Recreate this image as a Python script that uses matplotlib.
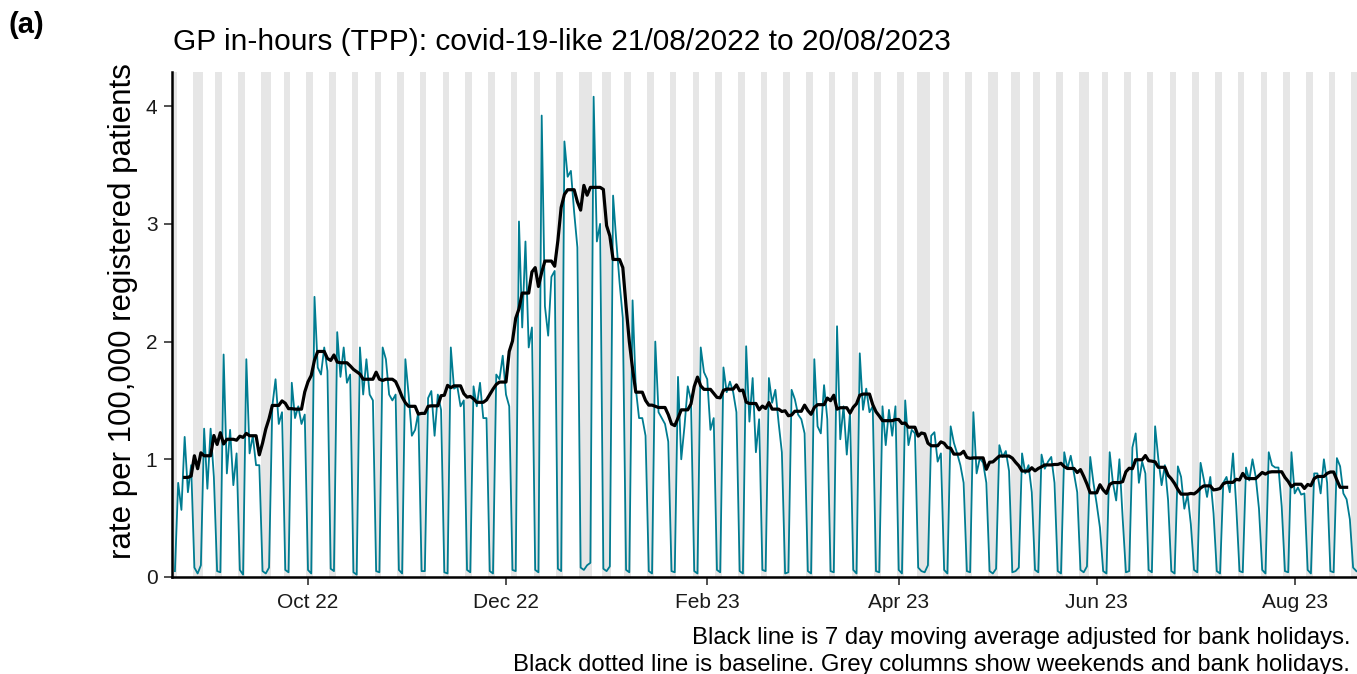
import matplotlib
matplotlib.use("Agg")
import matplotlib.pyplot as plt
import matplotlib.dates as mdates
import numpy as np
import pandas as pd

plt.rcParams["font.family"] = ["Liberation Sans", "DejaVu Sans"]

START = "2022-08-21"
END = "2023-08-20"

# daily rate per 100,000, one row per week (Sun..Sat)
rate = [
    0.05, 0.80, 0.57, 1.19, 0.72, 0.95, 0.08,
    0.03, 0.10, 1.26, 0.75, 1.26, 0.85, 0.05,
    0.04, 1.89, 0.88, 1.25, 0.78, 1.05, 0.06,
    0.02, 1.85, 1.05, 1.20, 0.95, 0.95, 0.05,
    0.03, 0.08, 1.45, 1.68, 1.30, 1.40, 0.06,
    0.04, 1.65, 1.35, 1.45, 1.30, 1.38, 0.06,
    0.03, 2.38, 1.78, 1.72, 1.95, 1.75, 0.07,
    0.05, 2.08, 1.70, 1.95, 1.65, 1.72, 0.04,
    0.02, 1.95, 1.55, 1.85, 1.55, 1.50, 0.05,
    0.04, 1.95, 1.85, 1.55, 1.50, 1.55, 0.06,
    0.03, 1.85, 1.55, 1.20, 1.25, 1.40, 0.05,
    0.05, 1.52, 1.58, 1.20, 1.55, 1.42, 0.04,
    0.03, 1.95, 1.60, 1.62, 1.45, 1.50, 0.06,
    0.04, 1.62, 1.45, 1.65, 1.35, 1.35, 0.05,
    0.03, 1.72, 1.68, 1.88, 1.55, 1.45, 0.06,
    0.05, 3.02, 2.12, 2.85, 1.95, 2.12, 0.06,
    0.04, 3.92, 2.30, 2.05, 2.55, 2.60, 0.07,
    0.05, 3.70, 3.40, 3.45, 3.10, 2.80, 0.08,
    0.06, 0.10, 0.12, 4.08, 2.85, 3.00, 0.07,
    0.05, 0.09, 3.24, 2.85, 2.50, 2.20, 0.06,
    0.04, 2.35, 1.60, 1.35, 1.35, 1.20, 0.05,
    0.03, 2.00, 1.40, 1.35, 1.30, 1.15, 0.05,
    0.04, 1.70, 1.00, 1.28, 1.62, 1.50, 0.05,
    0.03, 1.95, 1.74, 1.68, 1.25, 1.35, 0.06,
    0.04, 1.78, 1.57, 1.66, 1.57, 1.40, 0.05,
    0.03, 1.96, 1.32, 1.69, 1.06, 1.34, 0.06,
    0.05, 1.69, 1.48, 1.59, 1.31, 1.06, 0.03,
    0.04, 1.59, 1.51, 1.38, 1.34, 1.22, 0.05,
    0.03, 1.85, 1.28, 1.22, 1.63, 1.34, 0.05,
    0.04, 2.13, 1.17, 1.45, 1.04, 1.40, 0.06,
    0.03, 1.90, 1.42, 1.60, 1.40, 1.45, 0.05,
    0.04, 1.45, 1.12, 1.42, 1.20, 1.45, 0.06,
    0.03, 1.50, 1.12, 1.25, 1.22, 0.08, 0.05,
    0.04, 0.10, 1.20, 1.23, 0.98, 1.05, 0.06,
    0.03, 1.28, 1.14, 1.05, 0.95, 0.80, 0.05,
    0.04, 1.40, 0.88, 1.01, 0.97, 0.80, 0.05,
    0.03, 0.07, 1.12, 1.02, 1.07, 0.90, 0.04,
    0.05, 0.08, 1.05, 0.88, 0.95, 0.72, 0.06,
    0.04, 1.04, 0.92, 0.98, 1.02, 0.80, 0.05,
    0.03, 1.06, 0.92, 1.03, 0.88, 0.72, 0.06,
    0.04, 0.09, 1.02, 0.80, 0.62, 0.42, 0.05,
    0.03, 1.06, 0.80, 0.65, 1.00, 0.50, 0.04,
    0.05, 1.10, 1.22, 0.80, 0.98, 0.88, 0.06,
    0.04, 1.28, 1.00, 0.78, 0.95, 0.65, 0.05,
    0.03, 0.94, 0.85, 0.58, 0.70, 0.45, 0.06,
    0.04, 0.97, 0.83, 0.68, 0.85, 0.54, 0.05,
    0.03, 0.80, 0.85, 0.72, 1.05, 0.60, 0.05,
    0.04, 0.93, 0.82, 1.00, 0.85, 0.58, 0.06,
    0.03, 1.06, 0.95, 0.93, 0.93, 0.60, 0.05,
    0.04, 1.06, 0.71, 0.76, 0.70, 0.71, 0.06,
    0.03, 0.88, 0.88, 0.71, 1.00, 0.80, 0.05,
    0.04, 1.01, 0.94, 0.71, 0.66, 0.49, 0.08,
    0.05,
]

bank_holidays = [
    "2022-08-29", "2022-09-19", "2022-12-26", "2022-12-27", "2023-01-02",
    "2023-04-07", "2023-04-10", "2023-05-01", "2023-05-08", "2023-05-29",
]

TEAL = "#007C91"

dates = pd.date_range(START, END, freq="D")
df = pd.DataFrame({"date": dates, "rate": rate})
hols = pd.to_datetime(bank_holidays)
df["off"] = (df["date"].dt.dayofweek >= 5) | df["date"].isin(hols)

# 7 day moving average over working days only
work = df["rate"].where(~df["off"])
ma = work.rolling(7, center=True, min_periods=1).mean()
ma.iloc[:3] = np.nan
ma.iloc[-3:] = np.nan

x = mdates.date2num(df["date"])

fig = plt.figure(figsize=(13.57, 6.74), dpi=100)
ax = fig.add_axes([172 / 1357, 1 - 577 / 674, (1357 - 172) / 1357, (577 - 72) / 674])

for d in x[df["off"].values]:
    ax.axvspan(d - 0.5, d + 0.5, color="#e6e6e6", lw=0, zorder=0)

ax.plot(x, df["rate"], color=TEAL, lw=1.3, zorder=2)
ax.plot(x, ma, color="black", lw=2.3, zorder=3)

ax.set_xlim(x[0] - 0.9, x[-1] + 0.2)
ax.set_ylim(0, 4.29)
ax.set_yticks([0, 1, 2, 3, 4])

ax.xaxis.set_major_locator(mdates.MonthLocator(bymonth=[2, 4, 6, 8, 10, 12]))
ax.xaxis.set_major_formatter(mdates.DateFormatter("%b %y"))

for s in ["top", "right"]:
    ax.spines[s].set_visible(False)
for s in ["left", "bottom"]:
    ax.spines[s].set_linewidth(1.8)
    ax.spines[s].set_color("black")

ax.tick_params(axis="both", length=5.5, width=1.2, color="#333333",
               labelsize=15, labelcolor="#1a1a1a")
ax.tick_params(axis="x", pad=6)
ax.tick_params(axis="y", pad=5)
ax.set_ylabel("rate per 100,000 registered patients", fontsize=22.5)
ax.yaxis.set_label_coords(-0.029, 0.527)

fig.text(9 / 1357, 1 - 25 / 674, "(a)", fontsize=21, fontweight="bold", va="center")
fig.text(173 / 1357, 1 - 42 / 674,
         "GP in-hours (TPP): covid-19-like 21/08/2022 to 20/08/2023",
         fontsize=21.5, va="center", ha="left")
fig.text(1350 / 1357, 1 - 638 / 674,
         "Black line is 7 day moving average adjusted for bank holidays.",
         fontsize=17.2, va="center", ha="right")
fig.text(1350 / 1357, 1 - 665 / 674,
         "Black dotted line is baseline. Grey columns show weekends and bank holidays.",
         fontsize=17.2, va="center", ha="right")

fig.savefig("out.png", dpi=100)
plt.close(fig)
